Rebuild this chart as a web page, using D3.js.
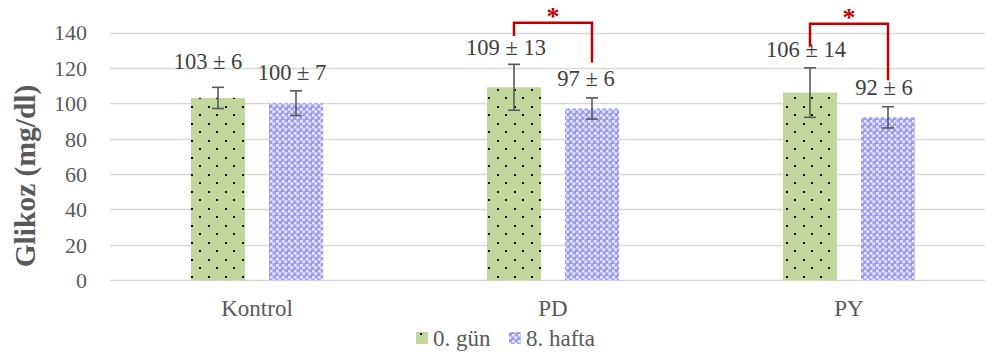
<!DOCTYPE html>
<html>
<head>
<meta charset="utf-8">
<script src="https://cdn.jsdelivr.net/npm/d3@7"></script>
<style>
  html, body { margin: 0; padding: 0; background: #fff; }
  svg { display: block; }
</style>
</head>
<body>
<svg id="chart" width="986" height="358"></svg>
<script>
// Glucose (mg/dl) per group, day 0 vs week 8
const categories = ["Kontrol", "PD", "PY"];
const seriesNames = ["0. gün", "8. hafta"];
const day0Mean = [103, 109, 106];
const day0Sd = [6, 13, 14];
const week8Mean = [100, 97, 92];
const week8Sd = [7, 6, 6];
const yTicks = [0, 20, 40, 60, 80, 100, 120, 140];
// Significance brackets: group index, bracket top and leg ends (mg/dl)
const sigGroups = [1, 2];
const sigTop = [145.5, 145];
const sigLeftEnd = [138, 132];
const sigRightEnd = [123, 113];
// Hand-placed nudges of the value labels (px)
const day0LabelLift = [7, -2, 0];
const week8LabelLift = [0, 1, 1];
const day0LabelShift = [-10, -8, -4];
const week8LabelShift = [-4, -6, -4];

const svg = d3.select("#chart");
const defs = svg.append("defs");

// Dotted green fill
const pGreen = defs.append("pattern").attr("id", "pGreen")
  .attr("patternUnits", "userSpaceOnUse").attr("width", 17).attr("height", 17);
pGreen.append("rect").attr("width", 17).attr("height", 17).attr("fill", "#c3d69b");
pGreen.append("rect").attr("x", 4).attr("y", 4).attr("width", 2).attr("height", 2).attr("fill", "#111");
pGreen.append("rect").attr("x", 12).attr("y", 12).attr("width", 2).attr("height", 2).attr("fill", "#111");

// Checkered blue fill
const pBlue = defs.append("pattern").attr("id", "pBlue")
  .attr("patternUnits", "userSpaceOnUse").attr("width", 6).attr("height", 6);
pBlue.append("rect").attr("width", 6).attr("height", 6).attr("fill", "#9c9cf5");
pBlue.append("rect").attr("x", 2).attr("y", 0).attr("width", 1).attr("height", 6).attr("fill", "#c4c4fa");
pBlue.append("rect").attr("x", 0).attr("y", 2).attr("width", 6).attr("height", 1).attr("fill", "#c4c4fa");
pBlue.append("rect").attr("x", 0).attr("y", 0).attr("width", 2).attr("height", 2).attr("fill", "#ececfe");
pBlue.append("rect").attr("x", 3).attr("y", 3).attr("width", 2).attr("height", 2).attr("fill", "#ececfe");

const y = d3.scaleLinear().domain([0, 140]).range([280, 32.5]);
const x = d3.scaleBand().domain(categories).range([109, 997]).paddingInner(0).paddingOuter(0);
const sub = d3.scaleBand().domain(seriesNames).range([-66, 66]).paddingInner(24 / 78).paddingOuter(0);

const font = "'Liberation Serif', 'Times New Roman', serif";

// Gridlines
svg.append("g").selectAll("line").data(yTicks).join("line")
  .attr("x1", 110).attr("x2", 985)
  .attr("y1", d => Math.round(y(d)) + 0.5).attr("y2", d => Math.round(y(d)) + 0.5)
  .attr("stroke", "#d9d9d9").attr("stroke-width", 1.3);

// Y axis tick labels
const yAxis = d3.axisLeft(y).tickValues(yTicks).tickSize(0).tickPadding(0);
const gy = svg.append("g").attr("transform", "translate(87,0)").call(yAxis);
gy.select(".domain").remove();
gy.selectAll("text").attr("font-family", font).attr("font-size", 22).attr("fill", "#595959").attr("dy", "0.34em");

// Y axis title
svg.append("text")
  .attr("transform", "translate(35,176) rotate(-90)")
  .attr("text-anchor", "middle").attr("font-family", font).attr("font-size", 29.5)
  .attr("font-weight", "bold").attr("fill", "#595959").text("Glikoz (mg/dl)");

// Category labels
const xAxis = d3.axisBottom(x).tickSize(0).tickPadding(0);
const gx = svg.append("g").attr("transform", "translate(0,316)").call(xAxis);
gx.select(".domain").remove();
gx.selectAll("text").attr("font-family", font).attr("font-size", 23).attr("fill", "#595959").attr("dy", "0");

const series = [
  { name: seriesNames[0], mean: day0Mean, sd: day0Sd, fill: "url(#pGreen)", lift: day0LabelLift, shift: day0LabelShift },
  { name: seriesNames[1], mean: week8Mean, sd: week8Sd, fill: "url(#pBlue)", lift: week8LabelLift, shift: week8LabelShift }
];

series.forEach(s => {
  const g = svg.append("g");
  const cx = (i) => x(categories[i]) + x.bandwidth() / 2 + sub(s.name) + sub.bandwidth() / 2;
  // bars
  g.selectAll("rect").data(s.mean).join("rect")
    .attr("x", (d, i) => x(categories[i]) + x.bandwidth() / 2 + sub(s.name))
    .attr("width", sub.bandwidth())
    .attr("y", d => y(d)).attr("height", d => y(0) - y(d))
    .attr("fill", s.fill);
  // error bars
  s.mean.forEach((m, i) => {
    const c = cx(i);
    const top = y(m + s.sd[i]), bot = y(m - s.sd[i]);
    g.append("line").attr("x1", c).attr("x2", c).attr("y1", top).attr("y2", bot)
      .attr("stroke", "#595959").attr("stroke-width", 1.6);
    [top, bot].forEach(v => g.append("line").attr("x1", c - 6).attr("x2", c + 6)
      .attr("y1", v).attr("y2", v).attr("stroke", "#595959").attr("stroke-width", 1.6));
    // value label
    g.append("text").attr("x", c + s.shift[i]).attr("y", top - 11 - s.lift[i])
      .attr("text-anchor", "middle").attr("font-family", font).attr("font-size", 22.5)
      .attr("fill", "#404040").text(`${m} ± ${s.sd[i]}`);
  });
});

// Significance brackets
sigGroups.forEach((gi, k) => {
  const cat = categories[gi];
  const xl = x(cat) + x.bandwidth() / 2 + sub(seriesNames[0]) + sub.bandwidth() / 2;
  const xr = x(cat) + x.bandwidth() / 2 + sub(seriesNames[1]) + sub.bandwidth() / 2;
  const path = d3.path();
  path.moveTo(xl, y(sigLeftEnd[k]));
  path.lineTo(xl, y(sigTop[k]));
  path.lineTo(xr, y(sigTop[k]));
  path.lineTo(xr, y(sigRightEnd[k]));
  svg.append("path").attr("d", path.toString()).attr("fill", "none")
    .attr("stroke", "#c00000").attr("stroke-width", 2.5);
  svg.append("text").attr("x", (xl + xr) / 2).attr("y", y(sigTop[k]) + 2)
    .attr("text-anchor", "middle").attr("font-family", font).attr("font-size", 26)
    .attr("font-weight", "bold").attr("fill", "#c00000").text("*");
});

// Legend
const legend = svg.append("g").attr("transform", "translate(416,346)");
const legendItems = [
  { name: seriesNames[0], fill: "url(#pGreen)", x: 0 },
  { name: seriesNames[1], fill: "url(#pBlue)", x: 93 }
];
legendItems.forEach(it => {
  legend.append("rect").attr("x", it.x).attr("y", -14).attr("width", 12).attr("height", 12).attr("fill", it.fill);
  legend.append("text").attr("x", it.x + 17).attr("y", 0)
    .attr("font-family", font).attr("font-size", 23).attr("fill", "#595959").text(it.name);
});
</script>
</body>
</html>
